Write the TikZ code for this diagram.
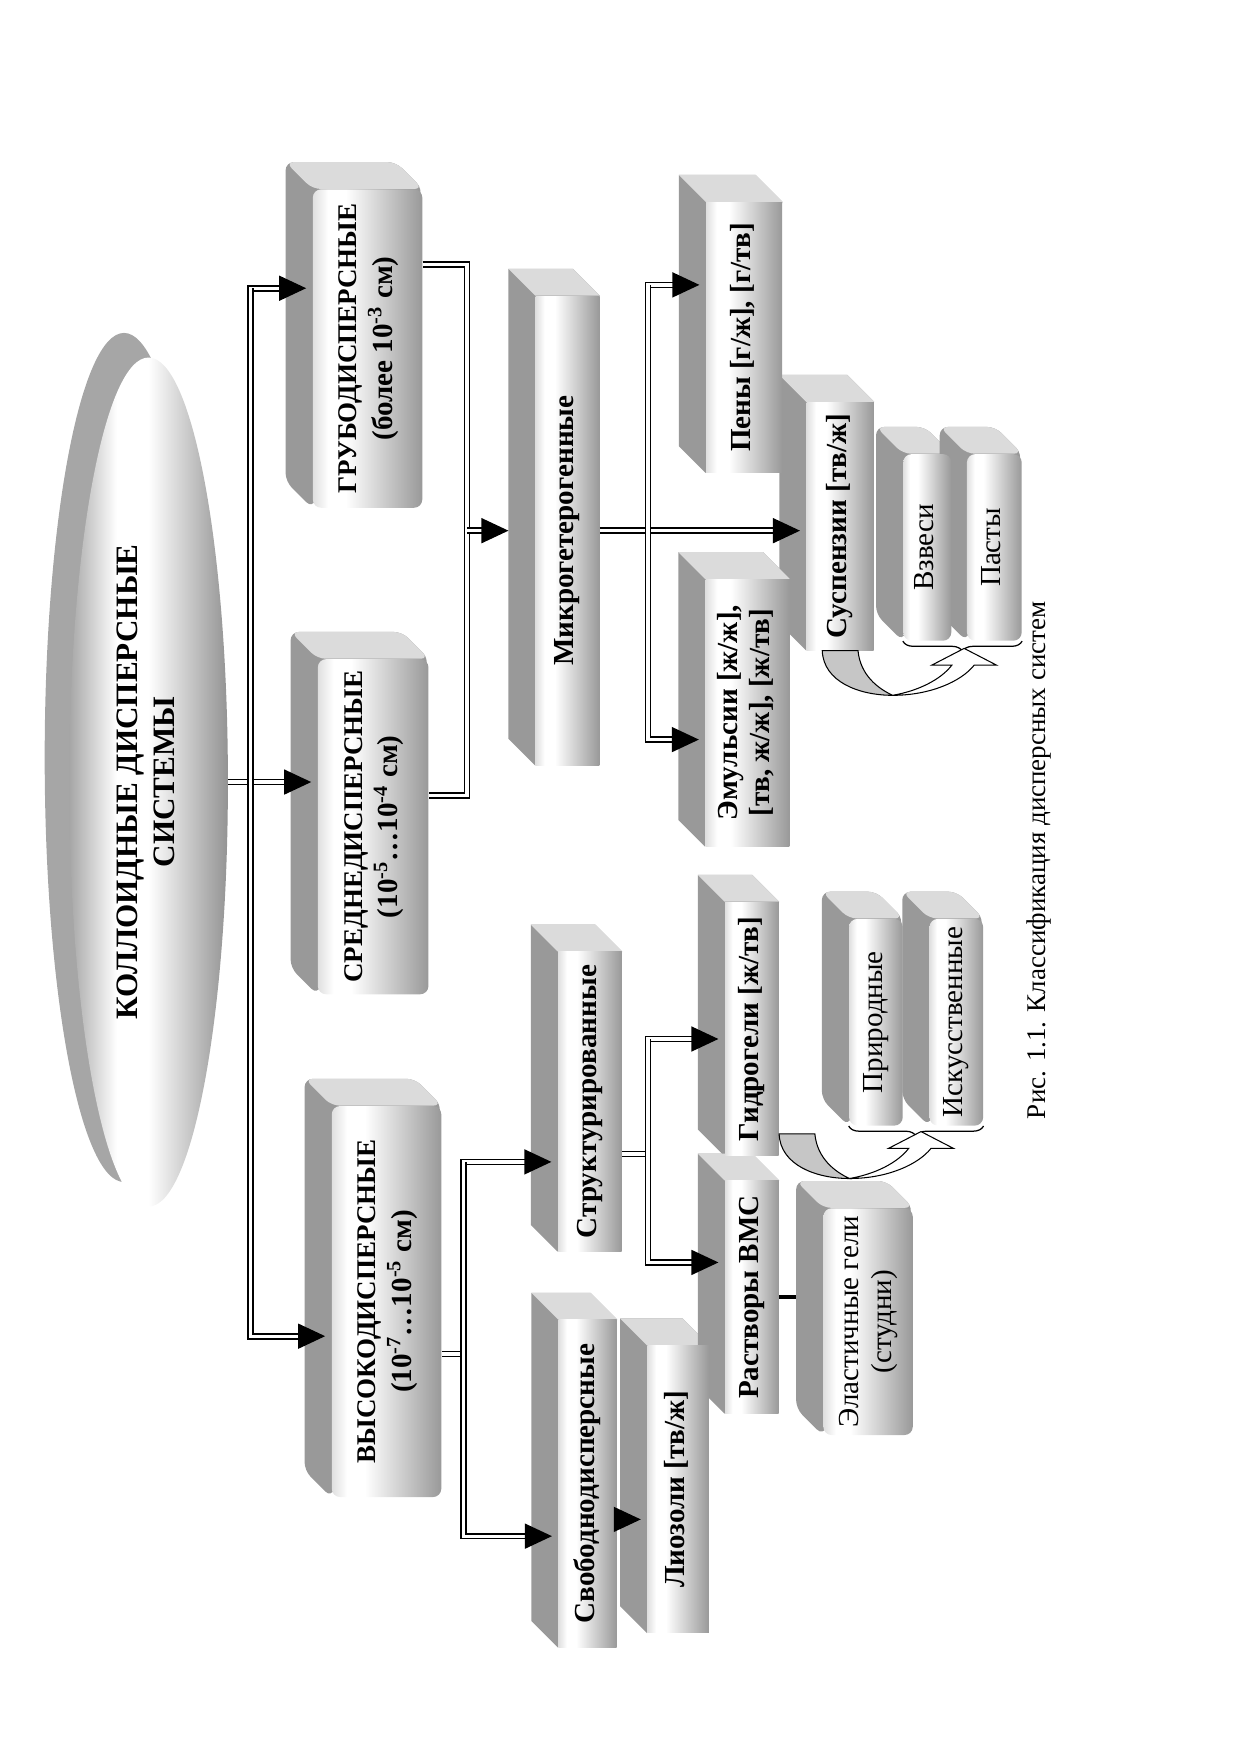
\documentclass[tikz,border=0pt]{standalone}
\usepackage{fontspec}
\setmainfont{Liberation Serif}
\usepackage{graphicx}
\usetikzlibrary{shapes.geometric,arrows.meta,calc,decorations.pathreplacing}
\pgfdeclarelayer{back}
\pgfsetlayers{back,main}
\newlength\unitpx
\setlength\unitpx{0.0189cm}
\def\dd{24}
\pgfdeclarehorizontalshading{boxshade}{100bp}{color(0bp)=(gray!25); color(25bp)=(gray!25); color(32bp)=(white); color(40bp)=(white); color(75bp)=(gray!80); color(100bp)=(gray!80)}
\pgfdeclarehorizontalshading{ellshade}{100bp}{color(0bp)=(gray!70); color(25bp)=(gray!70); color(40bp)=(white); color(50bp)=(white); color(75bp)=(gray!85); color(100bp)=(gray!85)}
\newcommand\vlabel[1]{\rotatebox{90}{\begin{tabular}{@{}c@{}}#1\end{tabular}}}
\newcommand\sublbl{\fontsize{14}{17}\selectfont}
\newcommand\extrude[2][]{%
  \begin{pgfonlayer}{back}
    \fill[gray!80,#1] (#2.south west) -- ++(-\dd,-\dd) |- ($(#2.north east)+(-\dd,-\dd)$) -- (#2.north east) -- cycle;
    \fill[gray!28,#1] (#2.north west) -- ++(-\dd,-\dd) -- ($(#2.north east)+(-\dd,-\dd)$) -- (#2.north east) -- cycle;
  \end{pgfonlayer}}
\tikzset{
  curv/.pic={
    \filldraw[fill=gray!45, line width=0.5pt] (-16,0) .. controls (-15,28) and (17,40) .. (47,40) .. controls (34,34) and (18,22) .. (16,0) -- cycle;
    \filldraw[fill=white, line width=0.5pt] (47,40) .. controls (80,40) and (108,28) .. (120,13) -- (140,13) -- (111,-2) -- (82,13) -- (100,13) .. controls (90,26) and (70,36) .. (47,40) -- cycle;
  }
}
\begin{document}
\begin{tikzpicture}[x=0.0189cm, y=-0.0189cm,
  face/.style={shading=boxshade, inner sep=0pt, font=\bfseries\fontsize{14}{15.5}\selectfont},
  sq/.style 2 args={face, rectangle, minimum width=#1\unitpx, minimum height=#2\unitpx},
  rnd/.style 2 args={sq={#1}{#2}, rounded corners=4pt, font=\fontsize{14}{16}\selectfont},
  caps/.style={font=\bfseries\fontsize{13}{17}\selectfont},
  dbl/.style={double, double distance=1.6pt, line width=0.8pt},
  arr/.style={dbl, -{Triangle[length=13pt,width=12pt]}, shorten >=3pt},
  brc/.style={decorate, decoration={brace, amplitude=5pt}, line width=0.6pt}]
\useasboundingbox (0,0) rectangle (1111,1570);

\node[ellipse, minimum width=142\unitpx, minimum height=760\unitpx, shading=ellshade, inner sep=0pt, font=\bfseries\fontsize{15}{18}\selectfont] (kds) at (133,700) {\vlabel{КОЛЛОИДНЫЕ ДИСПЕРСНЫЕ\\СИСТЕМЫ}};
\begin{pgfonlayer}{back}
  \fill[gray!70] ($(kds.center)+(-22,-22)$) ellipse [x radius=71\unitpx, y radius=380\unitpx];
\end{pgfonlayer}

\node[rnd={98}{285}, caps] (grubo) at (329,312) {\vlabel{ГРУБОДИСПЕРСНЫЕ\\\sublbl(более 10\textsuperscript{-3} см)}};
\node[rnd={99}{300}, caps] (sredne) at (334,740) {\vlabel{СРЕДНЕДИСПЕРСНЫЕ\\\sublbl(10\textsuperscript{-5}…10\textsuperscript{-4} см)}};
\node[rnd={98}{350}, caps] (vysoko) at (346,1165) {\vlabel{ВЫСОКОДИСПЕРСНЫЕ\\\sublbl(10\textsuperscript{-7}…10\textsuperscript{-5} см)}};
\node[sq={57}{420}] (mikro) at (508,475) {\vlabel{Микрогетерогенные}};
\node[sq={68}{242}] (peny) at (666,302) {\vlabel{Пены [г/ж], [г/тв]}};
\node[sq={60}{222}] (susp) at (752,471) {\vlabel{Суспензии [тв/ж]}};
\node[sq={75}{239}] (emul) at (669,638) {\vlabel{Эмульсии [ж/ж],\\{}[тв, ж/ж], [ж/тв]}};
\node[rnd={43}{167}] (vzvesi) at (830,490) {\vlabel{Взвеси}};
\node[rnd={49}{167}] (pasty) at (890,490) {\vlabel{Пасты}};
\node[sq={57}{268}] (struct) at (528,986) {\vlabel{Структурированные}};
\node[sq={52}{293}] (svobod) at (526,1328) {\vlabel{Свободнодисперсные}};
\node[sq={55}{257}] (liozoli) at (607,1333) {\vlabel{Лиозоли [тв/ж]}};
\node[sq={48}{227}] (gidro) at (673,921) {\vlabel{Гидрогели [ж/тв]}};
\node[sq={48}{208}] (rastvor) at (673,1161) {\vlabel{Растворы ВМС}};
\node[rnd={80}{203}] (elast) at (777,1183) {\vlabel{Эластичные гели\\(студни)}};
\node[rnd={48}{185}] (prirod) at (784,915) {\vlabel{Природные}};
\node[rnd={48}{185}] (iskus) at (856,915) {\vlabel{Искусственные}};
\node[font=\fontsize{13}{16}\selectfont] (cap) at (930,770) {\rotatebox{90}{Рис. 1.1. Классификация дисперсных систем}};

\extrude[rounded corners=4pt]{grubo}
\extrude[rounded corners=4pt]{sredne}
\extrude[rounded corners=4pt]{vysoko}
\extrude{mikro}
\extrude{peny}
\extrude{susp}
\extrude{emul}
\extrude[rounded corners=4pt]{vzvesi}
\extrude[rounded corners=4pt]{pasty}
\extrude{struct}
\extrude{svobod}
\extrude{liozoli}
\extrude{gidro}
\extrude{rastvor}
\extrude[rounded corners=4pt]{elast}
\extrude[rounded corners=4pt]{prirod}
\extrude[rounded corners=4pt]{iskus}

\coordinate (tg) at (224,258);
\coordinate (tv) at (224,1196);
\draw[arr] (kds.east) -- (kds.east -| sredne.west);
\draw[arr] (tv) |- (grubo.west |- tg);
\draw[arr] (tg) |- (vysoko.west |- tv);

\coordinate (jg) at (418,237);
\coordinate (js) at (418,712);
\draw[dbl] (grubo.east |- jg) -| (js) -- (sredne.east |- js);
\draw[arr, shorten >=24\unitpx] (jg |- mikro.west) -- (mikro.west);

\coordinate (jm1) at (580,255);
\coordinate (jm2) at (580,662);
\draw[arr] (mikro.east) -- (mikro.east -| susp.west);
\draw[arr] (jm2) |- (peny.west |- jm1);
\draw[arr] (jm1) |- (emul.west |- jm2);

\coordinate (jv1) at (415,1040);
\coordinate (jv2) at (415,1375);
\coordinate (jv0) at (415,1212);
\draw[dbl] (vysoko.east |- jv0) -- (jv0);
\draw[arr] (jv2) |- (struct.west |- jv1);
\draw[arr] (jv1) |- (svobod.west |- jv2);

\coordinate (jt1) at (580,930);
\coordinate (jt2) at (580,1130);
\coordinate (jt0) at (580,1033);
\draw[dbl] (struct.east |- jt0) -- (jt0);
\draw[arr] (jt2) |- (gidro.west |- jt1);
\draw[arr] (jt1) |- (rastvor.west |- jt2);

\coordinate (jl) at (552,1360);
\draw[arr] (jl) -- (jl -| liozoli.west);
\draw[line width=2pt, shorten >=24\unitpx] (rastvor.east) -- (rastvor.east -| elast.west);

\draw[brc] (pasty.south east) -- (vzvesi.south west);
\draw[brc] (iskus.south east) -- (prirod.south west);
\pic at (susp.south) {curv};
\pic at ($(gidro.south east)+(16,-20)$) {curv};
\end{tikzpicture}
\end{document}
